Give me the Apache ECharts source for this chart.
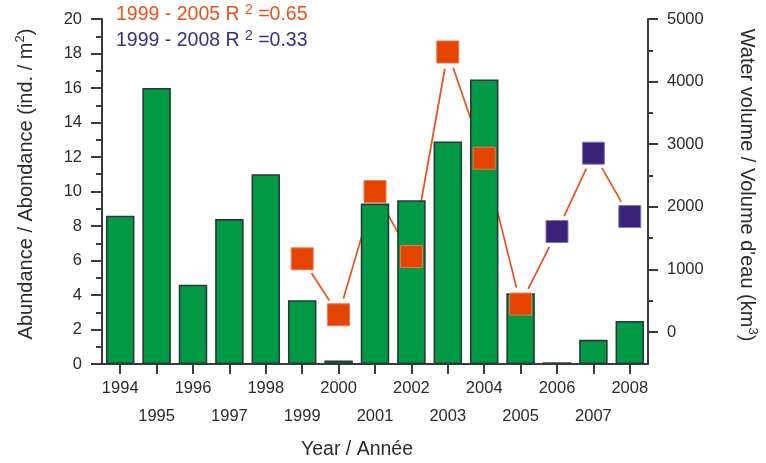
<!DOCTYPE html>
<html><head><meta charset="utf-8">
<script src="https://cdn.jsdelivr.net/npm/echarts@6/dist/echarts.min.js"></script>
<style>html,body{margin:0;padding:0;background:#fff}#c{width:766px;height:463px}</style>
</head><body><div id="c"></div>
<script>
// ---- data ----
const years = ['1994','1995','1996','1997','1998','1999','2000','2001','2002','2003','2004','2005','2006','2007','2008'];
const abundance = [8.6, 16.0, 4.6, 8.4, 11.0, 3.7, 0.2, 9.3, 9.5, 12.9, 16.5, 4.1, 0.1, 1.4, 2.5];
const waterVolume = [null, null, null, null, null, 1170, 276, 2244, 1207, 4473, 2777, 447, 1605, 2857, 1845];
const lastYearOfFirstPeriod = '2005';
const leftAxisRange = [0, 20, 2];
const rightAxisRange = [0, 5000, 1000];
const rightAxisLow = -510;
const legendLines = ['{a|1999 - 2005 R }{s|2}{a| =0.65}', '{a|1999 - 2008 R }{s|2}{a| =0.33}'];

// ---- style ----
const FONT = "'Liberation Sans', Arial, sans-serif";
const TXT = '#2b2b2b';
const AX = '#3a3a3a';
const GREEN = '#009a47';
const BAR_EDGE = '#263b31';
const ORANGE = '#e54300';
const LINE_OR = '#e8501c';
const PURPLE = '#3b2278';
const PURPLE_TXT = '#3f2c80';

const segments = [];
for (let i = 0; i < waterVolume.length - 1; i++) {
  if (waterVolume[i] != null && waterVolume[i + 1] != null) segments.push([i, waterVolume[i], waterVolume[i + 1]]);
}
const squares = waterVolume.map((v, i) => v == null ? '-' : {
  value: v,
  itemStyle: years[i] <= lastYearOfFirstPeriod
    ? { color: ORANGE, borderColor: '#ee7a4e', borderWidth: 1, opacity: 1 }
    : { color: PURPLE, borderColor: '#8677b3', borderWidth: 1, opacity: 1 }
});

function richSup(color, size, supSize) {
  return {
    a: { fontSize: size, fontFamily: FONT, fill: color, lineHeight: 22, verticalAlign: 'bottom' },
    s: { fontSize: supSize, fontFamily: FONT, fill: color, lineHeight: 14, verticalAlign: 'top' }
  };
}

const G = { left: 102, right: 118, top: 19, bottom: 99 };
const plotH = 463 - G.top - G.bottom;
const h1 = plotH * (rightAxisRange[1] - rightAxisRange[0]) / (rightAxisRange[1] - rightAxisLow);

const chart = echarts.init(document.getElementById('c'), null, { renderer: 'canvas' });
chart.setOption({
  animation: false,
  backgroundColor: '#fff',
  grid: [
    { left: G.left, right: G.right, top: G.top, bottom: G.bottom },
    { left: G.left, right: G.right, top: G.top, height: h1 }
  ],
  xAxis: [
    {
      type: 'category', data: years, gridIndex: 0,
      axisLine: { show: true, lineStyle: { color: AX, width: 2 } },
      axisTick: { show: true, alignWithLabel: true, length: 10, lineStyle: { color: AX, width: 2 } },
      axisLabel: {
        interval: 0, margin: 10, color: TXT, fontSize: 16.5, fontFamily: FONT, lineHeight: 28.5,
        verticalAlign: 'top',
        formatter: (v, i) => (i % 2 ? '\n' + v : v)
      },
      splitLine: { show: false }
    },
    { type: 'category', data: years, gridIndex: 1, show: false }
  ],
  yAxis: [
    {
      type: 'value', gridIndex: 0, position: 'left',
      min: leftAxisRange[0], max: leftAxisRange[1], interval: leftAxisRange[2],
      axisLine: { show: true, lineStyle: { color: AX, width: 2 } },
      axisTick: { show: true, length: 11, lineStyle: { color: AX, width: 2 } },
      minorTick: { show: true, splitNumber: 2, length: 6, lineStyle: { color: AX, width: 2 } },
      axisLabel: { margin: 20, color: TXT, fontSize: 16.5, fontFamily: FONT },
      splitLine: { show: false }, minorSplitLine: { show: false }
    },
    {
      type: 'value', gridIndex: 0, position: 'right',
      min: rightAxisLow, max: rightAxisRange[1],
      axisLine: { show: true, lineStyle: { color: AX, width: 2 } },
      axisTick: { show: false }, axisLabel: { show: false },
      splitLine: { show: false }
    },
    {
      type: 'value', gridIndex: 1, position: 'right',
      min: rightAxisRange[0], max: rightAxisRange[1], interval: rightAxisRange[2],
      axisLine: { show: false },
      axisTick: { show: true, length: 10, lineStyle: { color: AX, width: 2 } },
      minorTick: { show: true, splitNumber: 2, length: 5, lineStyle: { color: AX, width: 2 } },
      axisLabel: { margin: 19, color: TXT, fontSize: 16.5, fontFamily: FONT, formatter: v => String(v) },
      splitLine: { show: false }, minorSplitLine: { show: false }
    }
  ],
  series: [
    {
      type: 'bar', xAxisIndex: 0, yAxisIndex: 0, data: abundance, barWidth: 28.5,
      itemStyle: { color: GREEN, borderColor: BAR_EDGE, borderWidth: 1.6 }
    },
    {
      type: 'custom', xAxisIndex: 0, yAxisIndex: 1, data: segments, encode: { x: 0, y: 1 }, silent: true,
      renderItem: function (params, api) {
        const a = api.coord([api.value(0), api.value(1)]);
        const b = api.coord([api.value(0) + 1, api.value(2)]);
        const dx = b[0] - a[0], dy = b[1] - a[1];
        const L = Math.hypot(dx, dy), g = 17;
        return {
          type: 'line',
          shape: { x1: a[0] + dx / L * g, y1: a[1] + dy / L * g, x2: b[0] - dx / L * g, y2: b[1] - dy / L * g },
          style: { stroke: LINE_OR, lineWidth: 1.7 }
        };
      }
    },
    {
      type: 'scatter', xAxisIndex: 0, yAxisIndex: 1, data: squares, symbol: 'rect', symbolSize: 22, z: 4,
      itemStyle: { opacity: 1 }
    }
  ],
  graphic: [
    {
      type: 'text', x: 25, y: 184, rotation: Math.PI / 2,
      style: {
        text: '{a|Abundance / Abondance (ind. / m}{s|2}{a|)}', align: 'center', verticalAlign: 'middle',
        rich: richSup(TXT, 20, 13)
      }
    },
    {
      type: 'text', x: 748, y: 185, rotation: -Math.PI / 2,
      style: {
        text: "{a|Water volume / Volume d'eau (km}{s|3}{a|)}", align: 'center', verticalAlign: 'middle',
        rich: richSup(TXT, 20, 13)
      }
    },
    {
      type: 'text', x: 357, y: 450,
      style: { text: 'Year / Année', fill: TXT, fontSize: 19.5, fontFamily: FONT, align: 'center', verticalAlign: 'middle' }
    },
    {
      type: 'text', x: 116, y: 14,
      style: { text: legendLines[0], align: 'left', verticalAlign: 'middle', rich: richSup(LINE_OR, 19.5, 14) }
    },
    {
      type: 'text', x: 116, y: 40,
      style: { text: legendLines[1], align: 'left', verticalAlign: 'middle', rich: richSup(PURPLE_TXT, 19.5, 14) }
    }
  ]
});
</script>
</body></html>
